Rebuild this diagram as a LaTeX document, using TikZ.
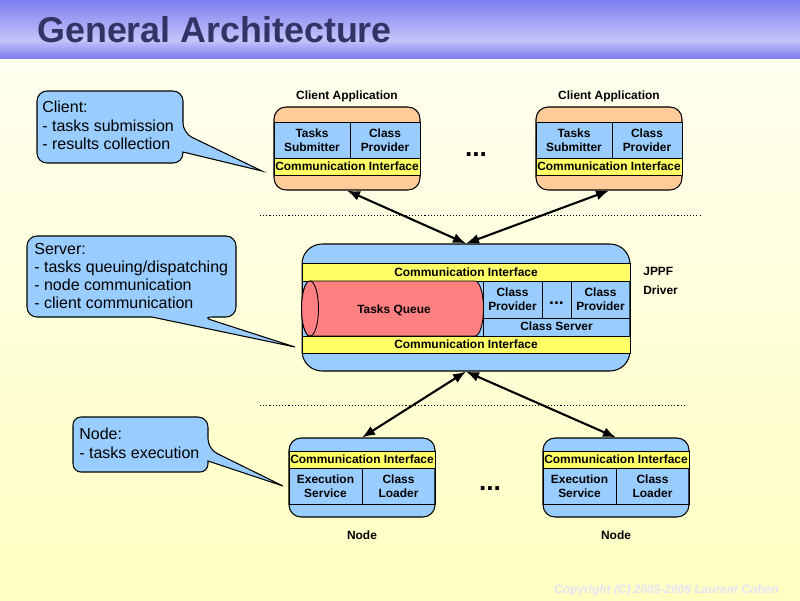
\documentclass[tikz,border=0pt]{standalone}
\usepackage{fontspec}
\setmainfont{Liberation Sans}
\usetikzlibrary{arrows.meta}
\definecolor{peach}{HTML}{FFCC99}
\definecolor{skyblue}{HTML}{99CCFF}
\definecolor{bandyellow}{HTML}{FFFF66}
\definecolor{queuered}{HTML}{FF8080}
\definecolor{titleblue}{HTML}{333366}
\definecolor{copygray}{HTML}{E4E4F8}
\definecolor{bardark}{HTML}{7E7EEE}
\definecolor{barlight}{HTML}{C4C4FC}
\def\labelsize{\fontsize{6.8}{7.9}\selectfont\bfseries}
\def\bubblesize{\fontsize{9.1}{10.3}\selectfont}
\def\qrx{0.17cm}
\def\qry{0.55cm}

\begin{document}
\begin{tikzpicture}[x=0.02cm,y=-0.02cm,
  box/.style={draw,line width=0.6pt,rounded corners=0.24cm,inner sep=0pt},
  cell/.style={draw,line width=0.5pt},
  lbl/.style={font=\labelsize,align=center,inner sep=0pt},
  bubble/.style={draw,line width=0.6pt,fill=skyblue,rounded corners=0.2cm},
  bubbletext/.style={font=\bubblesize,align=left,anchor=north west,inner sep=0pt},
  link/.style={{Latex[length=0.26cm,width=0.2cm]}-{Latex[length=0.26cm,width=0.2cm]},line width=1.2pt},
  sep/.style={dash pattern=on 0.6pt off 1.2pt,line width=0.5pt}]

% Background and title bar
\useasboundingbox (0,0) rectangle (800,600);
\shade[top color=yellow!6!white,bottom color=yellow!24!white] (0,58) rectangle (800,600);
\shade[top color=bardark,bottom color=barlight] (0,0) rectangle (800,40);
\shade[top color=barlight,bottom color=bardark] (0,40) rectangle (800,58);
\node[anchor=base west,font=\fontsize{20.4}{24}\selectfont\bfseries,text=titleblue,inner sep=0pt] (title) at (37,42) {General Architecture};

% Separators
\draw[sep] (260,215) -- (700,215);
\draw[sep] (260,405) -- (685,405);

% Client applications
\foreach \i/\cx in {a/347,b/609} {
  \node[box,fill=peach,minimum width=2.92cm,minimum height=1.66cm] (client\i) at (\cx,148.5) {};
  \draw[cell,fill=skyblue] (\cx-73,122) rectangle (\cx+3,158) (\cx+3,122) rectangle (\cx+73,158);
  \draw[cell,fill=bandyellow] (\cx-73,158) rectangle (\cx+73,175);
  \node[lbl] (submit\i) at (\cx-35,140) {Tasks\\Submitter};
  \node[lbl] (provide\i) at (\cx+38,140) {Class\\Provider};
  \node[lbl] (ccomm\i) at (\cx,166.5) {Communication Interface};
  \node[lbl] (capp\i) at (\cx,96) {Client Application};
}
\node[anchor=base,font=\fontsize{15}{15}\selectfont\bfseries,inner sep=0pt] (cdots) at (476,156) {...};

% JPPF driver
\node[box,fill=skyblue,rounded corners=0.4cm,minimum width=6.56cm,minimum height=2.54cm] (driver) at (466,307.5) {};
\draw[cell,fill=bandyellow] (302,263) rectangle (630,281);
\draw[cell] (302,281) rectangle (630,336);
\draw[cell,fill=queuered] (310,281) -- (475,281) arc[start angle=90,end angle=-90,x radius=\qrx,y radius=\qry] -- (310,336) arc[start angle=270,end angle=90,x radius=\qrx,y radius=\qry] -- cycle;
\draw[cell,fill=queuered] (310,308.5) ellipse[x radius=\qrx,y radius=\qry];
\draw[cell] (483,281) rectangle (542,318) (542,281) rectangle (571,318) (571,281) rectangle (630,318) (483,318) rectangle (630,336);
\draw[cell,fill=bandyellow] (302,336) rectangle (630,353);
\node[lbl] (dcommtop) at (466,272) {Communication Interface};
\node[lbl] (queue) at (394,310) {Tasks Queue};
\node[lbl] (dprova) at (512.5,299.5) {Class\\Provider};
\node[anchor=base,font=\fontsize{10}{10}\selectfont\bfseries,inner sep=0pt] (ddots) at (556.5,304) {...};
\node[lbl] (dprovb) at (600.5,299.5) {Class\\Provider};
\node[lbl] (classserver) at (556.5,326) {Class Server};
\node[lbl] (dcommbot) at (466,344.5) {Communication Interface};
\node[lbl,align=left,anchor=north west,font=\fontsize{6.8}{10.8}\selectfont\bfseries] (drvname) at (643,267) {JPPF\\Driver};

% Nodes
\foreach \i/\cx in {a/362,b/616} {
  \node[box,fill=skyblue,minimum width=2.92cm,minimum height=1.58cm] (node\i) at (\cx,477.5) {};
  \draw[cell,fill=bandyellow] (\cx-73,451) rectangle (\cx+73,468);
  \draw[cell] (\cx-73,468) rectangle (\cx,504) (\cx,468) rectangle (\cx+73,504);
  \node[lbl] (ncomm\i) at (\cx,459.5) {Communication Interface};
  \node[lbl] (exec\i) at (\cx-36.5,486) {Execution\\Service};
  \node[lbl] (loader\i) at (\cx+36.5,486) {Class\\Loader};
  \node[lbl] (nname\i) at (\cx,535) {Node};
}
\node[anchor=base,font=\fontsize{15}{15}\selectfont\bfseries,inner sep=0pt] (ndots) at (490,490) {...};

% Links
\draw[link] (clienta.south) -- (driver.north);
\draw[link] (clientb.south) -- (driver.north);
\draw[link] (driver.south) -- (nodea.north);
\draw[link] (driver.south) -- (nodeb.north);

% Callouts
\filldraw[bubble] (37,91) -- (183,91) -- (183,133) [sharp corners] -- (262,171) -- (183,152) [rounded corners=0.2cm] -- (183,163) -- (37,163) -- cycle;
\node[bubbletext] (clientnote) at (42,101) {Client:\\- tasks submission\\- results collection};
\filldraw[bubble] (27,236) -- (236,236) -- (236,317) -- (202,317) [sharp corners] -- (295,347) -- (152,317) [rounded corners=0.2cm] -- (27,317) -- cycle;
\node[bubbletext] (servernote) at (34,243) {Server:\\- tasks queuing/dispatching\\- node communication\\- client communication};
\filldraw[bubble] (73,417) -- (208,417) -- (208,449) [sharp corners] -- (283,486) -- (208,461) [rounded corners=0.16cm] -- (208,472) -- (73,472) -- cycle;
\node[bubbletext] (nodenote) at (79,428) {Node:\\- tasks execution};

% Copyright
\node[anchor=east,font=\fontsize{6.8}{8}\selectfont\bfseries\itshape,text=copygray,inner sep=0pt] (copyright) at (779,590) {Copyright (C) 2005-2006 Laurent Cohen};

\end{tikzpicture}
\end{document}
